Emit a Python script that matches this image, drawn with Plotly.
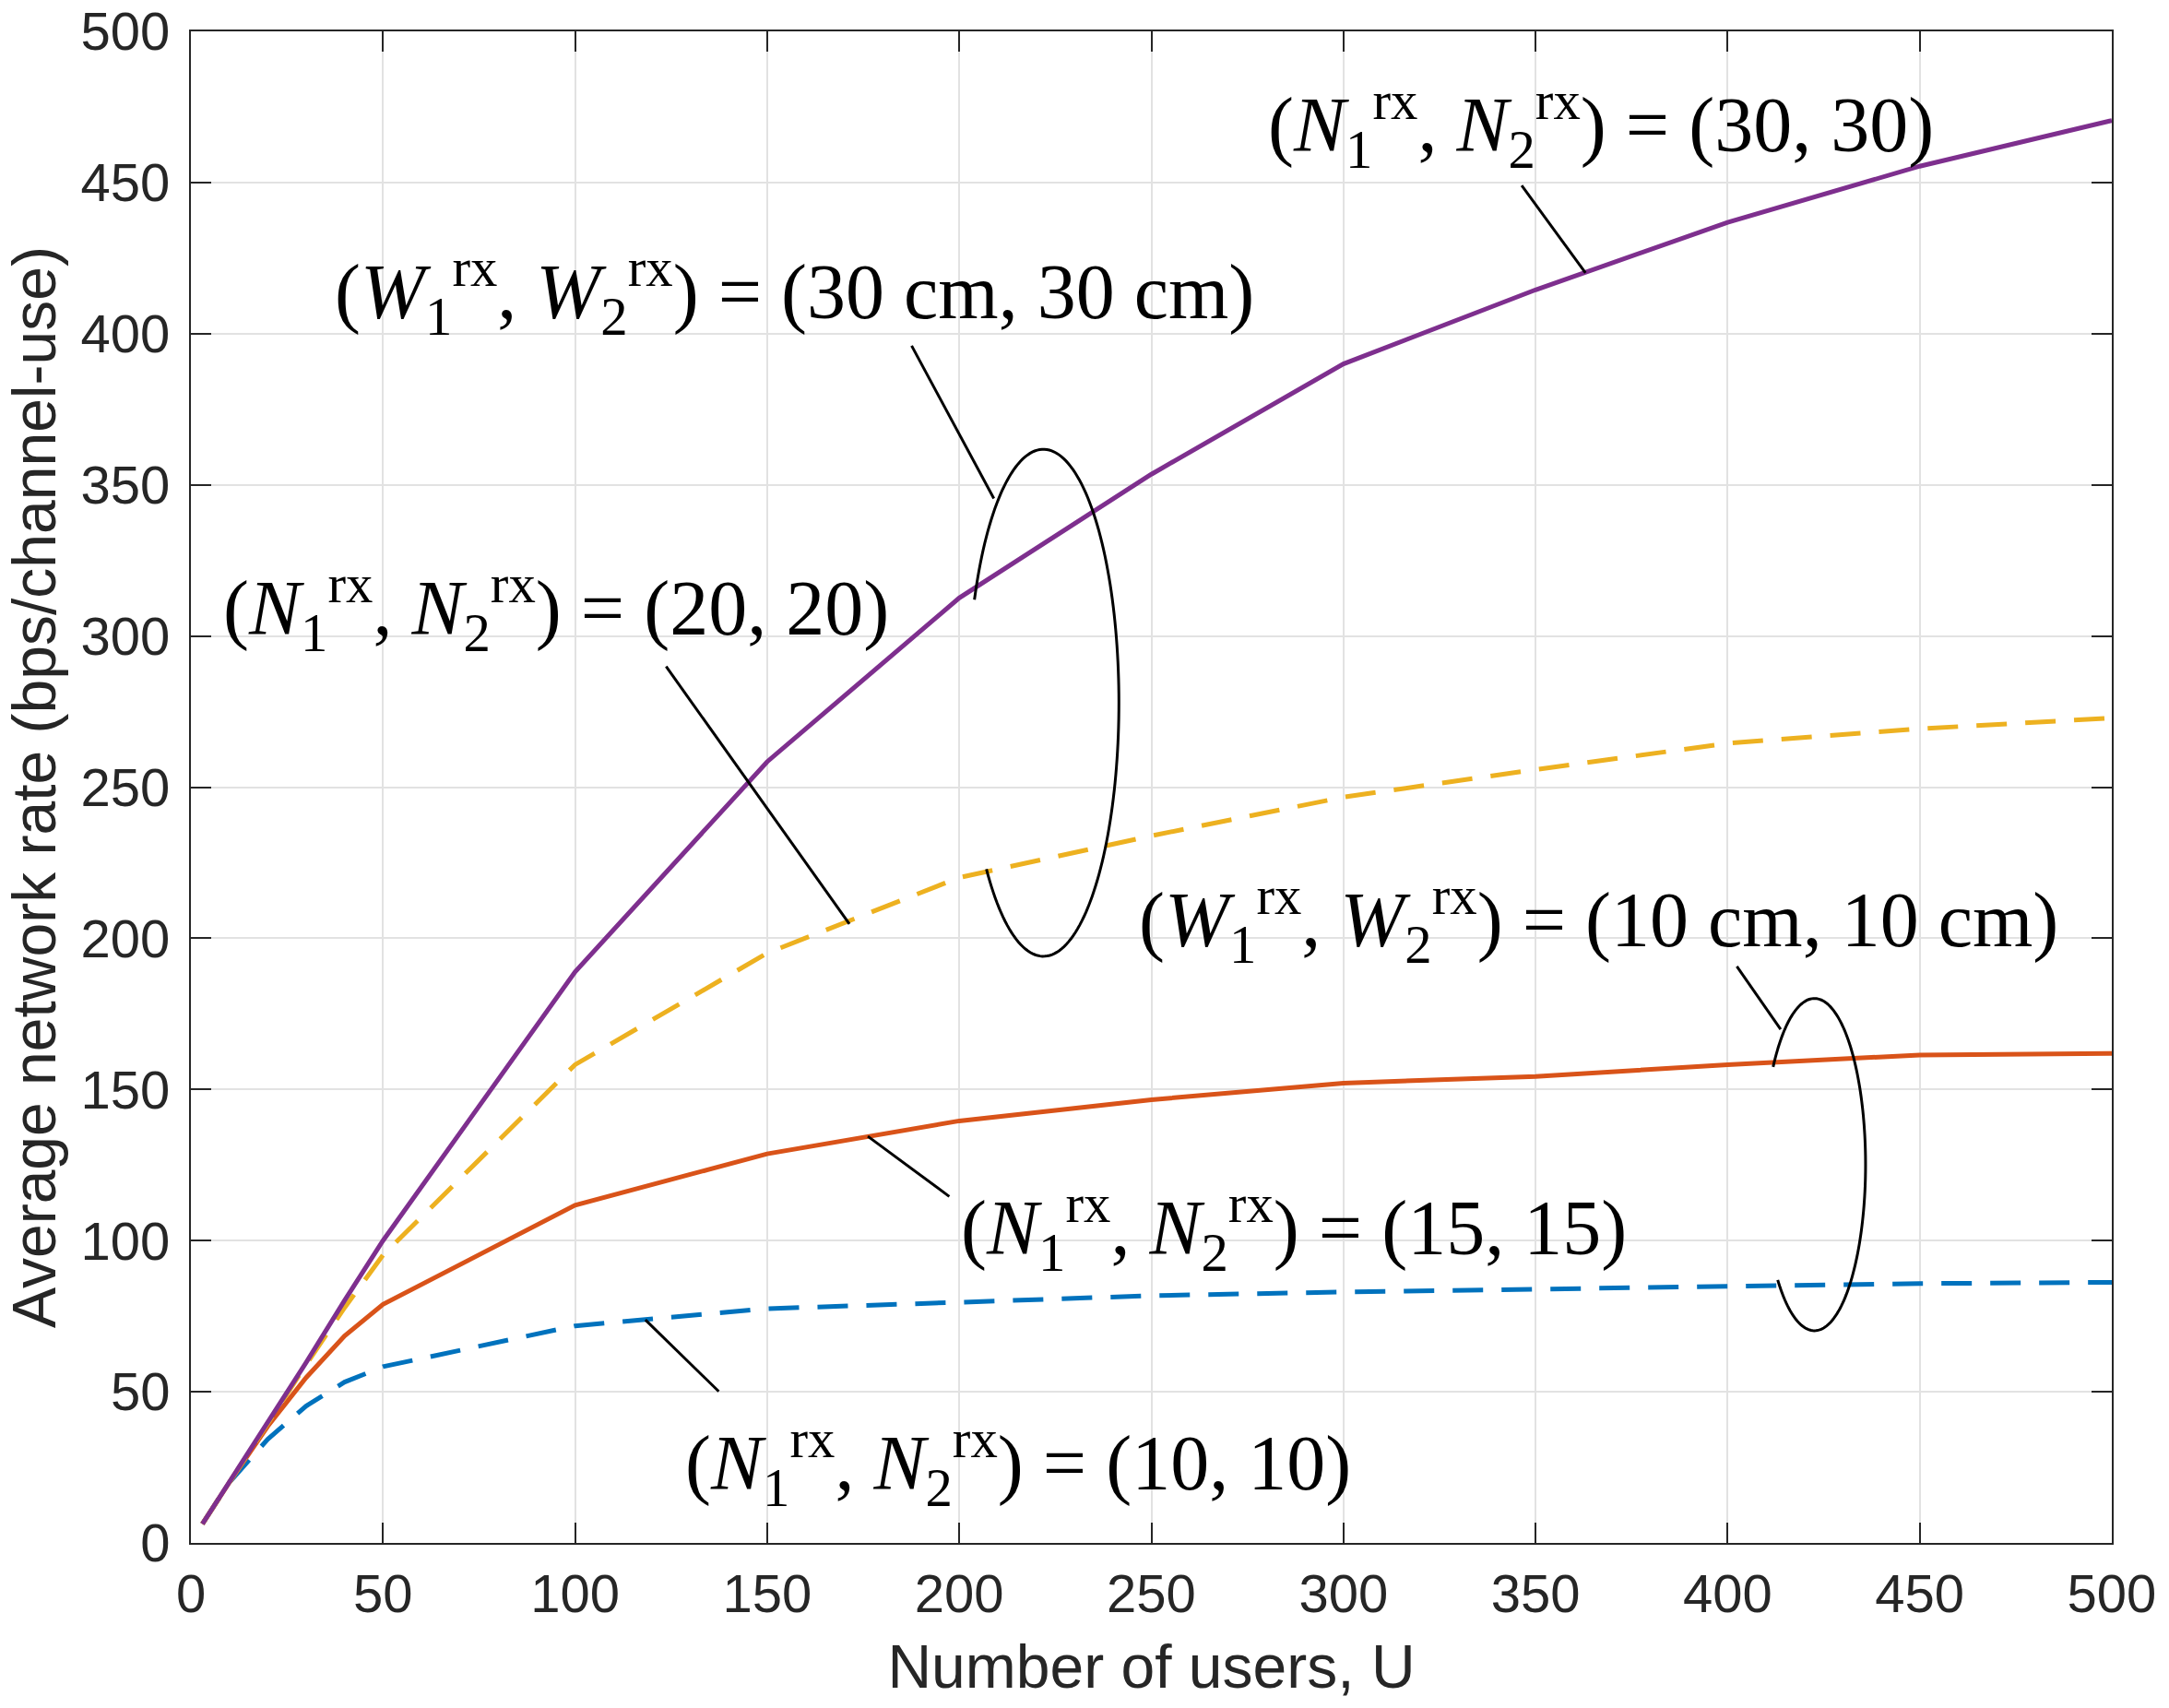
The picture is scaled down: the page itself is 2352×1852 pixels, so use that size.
import numpy as np
import plotly.graph_objects as go

# ---------------- data ----------------
users = [3, 10, 20, 30, 40, 50, 100, 150, 200, 250, 300, 350, 400, 450, 500]
rate_n10 = [6.3, 20.0, 34.3, 45.3, 53.2, 58.3, 71.8, 77.5, 79.6, 81.8, 83.0, 84.0, 84.7, 85.8, 86.2]
rate_n15 = [6.3, 20.0, 38.6, 54.7, 68.5, 78.9, 111.7, 128.7, 139.6, 146.6, 152.1, 154.3, 158.2, 161.4, 161.9]
rate_n20 = [6.3, 20.0, 39.8, 59.0, 77.8, 95.2, 158.2, 195.1, 220.1, 233.9, 246.7, 255.8, 264.5, 269.3, 272.9]
rate_n30 = [6.3, 20.0, 40.0, 59.7, 80.2, 100.0, 188.9, 258.4, 312.6, 353.5, 390.0, 414.5, 436.8, 455.4, 470.5]

x_ticks = [0, 50, 100, 150, 200, 250, 300, 350, 400, 450, 500]
y_ticks = [0, 50, 100, 150, 200, 250, 300, 350, 400, 450, 500]

N_LBL = "(<i>N</i><sub>1</sub><sup>rx</sup>, <i>N</i><sub>2</sub><sup>rx</sup>) = ({a}, {b})"
W_LBL = "(<i>W</i><sub>1</sub><sup>rx</sup>, <i>W</i><sub>2</sub><sup>rx</sup>) = ({a} cm, {b} cm)"

# ---------------- figure ----------------
AX = "#262626"
fig = go.Figure()

series = [
    (rate_n10, "#0072BD", "33px,20px", "(10,10)"),
    (rate_n15, "#D95319", "solid", "(15,15)"),
    (rate_n20, "#EDB120", "33px,20px", "(20,20)"),
    (rate_n30, "#7E2F8E", "solid", "(30,30)"),
]
for vals, col, dash, name in series:
    fig.add_trace(go.Scatter(x=users, y=vals, mode="lines", name=name,
                             line=dict(color=col, width=5, dash=dash),
                             showlegend=False))

axis_common = dict(
    range=[0, 500], showgrid=True, gridcolor="#e2e2e2", gridwidth=2,
    showline=True, linecolor=AX, linewidth=2, mirror="ticks",
    ticks="inside", ticklen=22, tickwidth=2, tickcolor=AX,
    tickfont=dict(family="Liberation Sans, Arial, sans-serif", size=58, color=AX),
    zeroline=False, automargin=False, ticklabeloverflow="allow",
)
fig.update_xaxes(tickvals=x_ticks, ticktext=[str(v) for v in x_ticks],
                 ticklabelstandoff=3,
                 title=dict(text="Number of users, U", standoff=25,
                            font=dict(family="Liberation Sans, Arial, sans-serif", size=66, color=AX)),
                 **axis_common)
fig.update_yaxes(tickvals=y_ticks, ticktext=[str(v) for v in y_ticks],
                 ticklabelstandoff=9,
                 title=dict(text="Average network rate (bps/channel-use)", standoff=20,
                            font=dict(family="Liberation Sans, Arial, sans-serif", size=66, color=AX)),
                 **axis_common)

# ---------------- annotations ----------------
lbl_font = dict(family="Liberation Serif, Times New Roman, serif", size=84, color="black")
labels = [
    (N_LBL.format(a=30, b=30), 367.1, 468.9),
    (W_LBL.format(a=30, b=30), 157.2, 413.7),
    (N_LBL.format(a=20, b=20), 95.0, 309.0),
    (W_LBL.format(a=10, b=10), 366.5, 205.9),
    (N_LBL.format(a=15, b=15), 287.2, 104.1),
    (N_LBL.format(a=10, b=10), 215.2, 26.2),
]
for txt, lx, ly in labels:
    fig.add_annotation(x=lx, y=ly, xref="x", yref="y", text=txt, showarrow=False,
                       xanchor="center", yanchor="middle", font=lbl_font)

connectors = [
    ((346.4, 449.0), (363.0, 420.1)),
    ((187.6, 396.0), (209.0, 345.5)),
    ((123.7, 289.9), (171.4, 204.7)),
    ((402.4, 190.7), (413.8, 169.9)),
    ((197.4, 114.6), (176.2, 134.5)),
    ((137.4, 50.1), (118.3, 73.8)),
]
for (xa, ya), (xb, yb) in connectors:
    fig.add_shape(type="line", xref="x", yref="y", x0=xa, y0=ya, x1=xb, y1=yb,
                  line=dict(color="black", width=3))


def ellipse_arc(cx, cy, rx, ry, t0, t1, n=160):
    t = np.radians(np.linspace(t0, t1, n))
    xs = cx + rx * np.cos(t)
    ys = cy + ry * np.sin(t)
    return "M " + " L ".join(f"{a:.3f},{b:.3f}" for a, b in zip(xs, ys))


for cx, cy, rx, ry, t0, t1 in [(221.9, 277.9, 19.65, 83.85, -139, 156),
                               (422.6, 125.15, 13.3, 54.95, -136, 144)]:
    fig.add_shape(type="path", xref="x", yref="y", path=ellipse_arc(cx, cy, rx, ry, t0, t1),
                  line=dict(color="black", width=3))

fig.update_layout(
    width=2352, height=1852,
    margin=dict(l=207, r=62, t=34, b=179, autoexpand=False),
    paper_bgcolor="white", plot_bgcolor="white",
)

fig.write_html("out.html", config={"displayModeBar": False},
               post_script="document.body.style.margin='0px';")
